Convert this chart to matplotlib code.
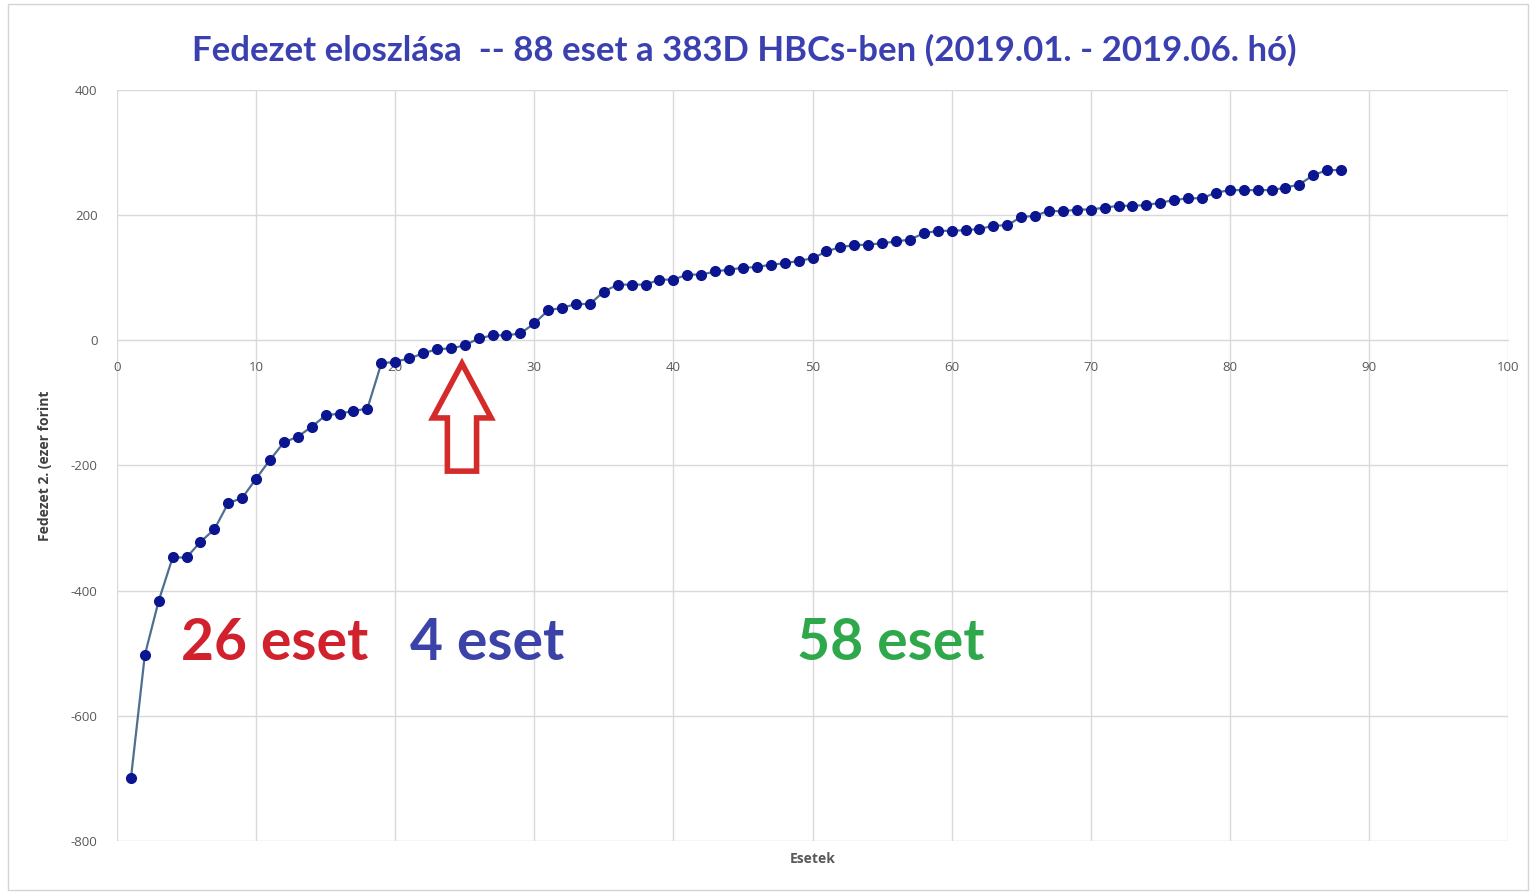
import matplotlib
matplotlib.use("Agg")
import matplotlib.pyplot as plt
from matplotlib.patches import Polygon, Rectangle

plt.rcParams["axes.unicode_minus"] = False

# ---- data ----
cases = list(range(1, 89))
fedezet = [
    -700, -503, -416, -347, -347, -322, -302, -260, -252, -221,
    -191, -163, -154, -138, -120, -117, -113, -109, -37, -34,
    -29, -21, -14, -13, -8, 3, 8, 8, 11, 27,
    48, 52, 58, 58, 78, 89, 89, 89, 97, 97,
    105, 105, 110, 113, 116, 117, 121, 123, 127, 131,
    142, 149, 152, 153, 155, 158, 161, 171, 175, 175,
    176, 178, 183, 184, 197, 199, 207, 206, 209, 209,
    212, 215, 215, 216, 220, 224, 227, 227, 236, 240,
    240, 240, 240, 244, 249, 264, 272, 272,
]
x_ticks = list(range(0, 101, 10))
y_ticks = list(range(-800, 401, 200))
title = "Fedezet eloszlása  -- 88 eset a 383D HBCs-ben (2019.01. - 2019.06. hó)"
group_labels = ["26 eset", "4 eset", "58 eset"]
group_x = [11.3, 26.6, 55.6]
group_colors = ["#d0212d", "#3b43a8", "#2fa84b"]

W, H = 1535, 893
fig = plt.figure(figsize=(W / 100, H / 100), dpi=100)
fig.patch.set_facecolor("white")

# outer chart frame
fig.patches.append(Rectangle((8 / W, 3 / H), (1528 - 8) / W, (889 - 3) / H,
                             transform=fig.transFigure, fill=False,
                             edgecolor="#d4d4d4", lw=1))

ax = fig.add_axes([117 / W, 1 - 841 / H, (1508 - 117) / W, (841 - 90) / H])
ax.set_xlim(0, 100)
ax.set_ylim(-800, 400)
ax.set_xticks(x_ticks)
ax.set_yticks(y_ticks)
ax.grid(True, color="#d9d9d9", lw=1)
ax.set_axisbelow(True)
for s in ["top", "right", "left"]:
    ax.spines[s].set_visible(False)
ax.spines["bottom"].set_position(("data", 0))
ax.spines["bottom"].set_color("#d9d9d9")
ax.tick_params(axis="both", length=0, labelsize=9.5, labelcolor="#595959")
ax.tick_params(axis="x", pad=15)
ax.tick_params(axis="y", pad=14)
for lab in ax.get_xticklabels() + ax.get_yticklabels():
    lab.set_fontfamily("Open Sans")

ax.plot(cases, fedezet, color="#4f6f8f", lw=1.6, marker="o",
        markersize=7, markerfacecolor="#0b1590", markeredgecolor="#0b1590",
        zorder=3)

# red hollow arrow (annotation)
tip_x, tip_y = 24.8, -37
arrow = Polygon([(tip_x, tip_y), (tip_x + 2.1, -124), (tip_x + 1.05, -124),
                 (tip_x + 1.05, -209), (tip_x - 1.05, -209), (tip_x - 1.05, -124),
                 (tip_x - 2.1, -124)], closed=True, facecolor="white",
                edgecolor="#d42a2a", lw=4, joinstyle="miter", zorder=4)
ax.add_patch(arrow)

for lbl, gx, col in zip(group_labels, group_x, group_colors):
    ax.text(gx, -484, lbl, color=col, fontsize=41, fontweight="bold",
            family="Lato", ha="center", va="center")

ax.set_xlabel("Esetek", fontsize=10, fontweight="bold", color="#595959",
              family="Open Sans")
ax.xaxis.set_label_coords(0.5, -0.015)
ax.set_ylabel("Fedezet 2. (ezer forint", fontsize=10, fontweight="bold",
              color="#404040", family="Open Sans")
ax.yaxis.set_label_coords(-0.047, 0.5)

fig.text(744 / W, 1 - 50 / H, title, color="#3b40b0", fontsize=25,
         fontweight="bold", family="Lato", ha="center", va="center")

fig.savefig("out.png", dpi=100)
